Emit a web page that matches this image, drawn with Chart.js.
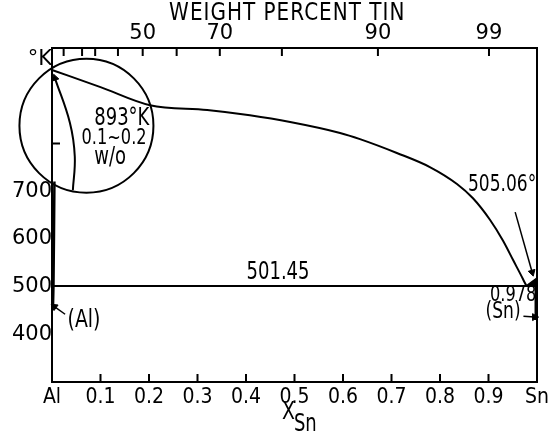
<!DOCTYPE html>
<html lang="en">
<head>
  <meta charset="UTF-8" />
  <title>Al-Sn phase diagram</title>
  <script src="https://cdn.jsdelivr.net/npm/chart.js"></script>
  <style>
    * { margin: 0; padding: 0; box-sizing: border-box; }
    body { background: #fff; width: 559px; height: 438px; overflow: hidden; }
    canvas { display: block; }
  </style>
</head>
<body>
  <canvas id="chart" width="559" height="438"></canvas>

  <script>
    // liquidus (x = mole fraction Sn, T in K)
    const liqX = [0, 0.1, 0.202, 0.32, 0.408, 0.491, 0.594, 0.635, 0.711, 0.78, 0.835, 0.868, 0.903, 0.930, 0.951, 0.971, 0.978];
    const liqT = [954, 918, 880, 870, 859, 845, 822, 809, 780, 750, 715, 685, 640, 596, 555, 516, 501.45];

    // eutectic horizontal
    const eutX = [0, 1];
    const eutT = [501.45, 501.45];

    // (Al) solvus hugging the left axis
    const alX = [0.005, 0.004, 0.003, 0.002];
    const alT = [720, 600, 501.45, 455];

    // magnified solidus drawn inside the circle
    const insetX = [0.006, 0.037, 0.047, 0.043];
    const insetT = [937, 843, 772, 702];
    const circleX = [0.071];
    const circleT = [837];

    // Sn side
    const snWedgeX = [0.978, 1, 1, 0.978];
    const snWedgeT = [501.45, 518, 501.45, 501.45];
    const snSolX = [0.998, 0.998];
    const snSolT = [515, 430];

    // arrows
    const arr505X = [0.955, 0.99];
    const arr505T = [656, 530];
    const arrAlX = [0.027, 0.005];
    const arrAlT = [442, 458];
    const arrSnX = [0.972, 0.995];
    const arrSnT = [438, 436];

    // ticks
    const xTicks = [0, 0.1, 0.2, 0.3, 0.4, 0.5, 0.6, 0.7, 0.8, 0.9, 1];
    const xTickLabels = ['Al', '0.1', '0.2', '0.3', '0.4', '0.5', '0.6', '0.7', '0.8', '0.9', 'Sn'];
    const topTicks = [0.024, 0.062, 0.089, 0.136, 0.187, 0.257, 0.346, 0.474, 0.672, 0.901];
    const topTickLabels = ['', '', '', '', '50', '', '70', '', '90', '99'];
    const yTicks = [400, 500, 600, 700, 975];
    const yTickLabels = ['400', '500', '600', '700', '°K'];
    const yInwardTicks = [800];

    const FONT = '"DejaVu Sans Condensed", "DejaVu Sans", sans-serif';
    const WIDE = '"DejaVu Sans", sans-serif';

    const notes = [
      { text: '501.45', x: 0.466, T: 529, size: 20 },
      { text: '505.06°', x: 0.928, T: 713, size: 19 },
      { text: '0.978', x: 0.951, T: 481, size: 18 },
      { text: '(Sn)', x: 0.930, T: 446, size: 19 },
      { text: '(Al)', x: 0.066, T: 430, size: 21 },
      { text: '893°K', x: 0.144, T: 851, size: 20 },
      { text: '0.1~0.2', x: 0.128, T: 810, size: 18 },
      { text: 'w/o', x: 0.120, T: 769, size: 20 }
    ];

    const pts = (xs, ys) => xs.map((x, i) => ({ x, y: ys[i] }));
    const line = (xs, ys, w, extra) => Object.assign({
      data: pts(xs, ys), showLine: true, borderColor: '#000', borderWidth: w,
      pointRadius: 0, fill: false, clip: false
    }, extra || {});
    const head = (x, y, rot) => ({
      data: [{ x, y }], pointStyle: 'triangle', pointRadius: 4, pointRotation: rot,
      backgroundColor: '#000', borderColor: '#000', borderWidth: 1, clip: false
    });

    // the lettering in the original is taller than it is wide
    function tallText(ctx, text, x, y) {
      ctx.save();
      ctx.translate(x, y);
      ctx.scale(1, 1.2);
      ctx.fillText(text, 0, 0);
      ctx.restore();
    }

    const decor = {
      id: 'decor',
      afterDatasetsDraw(chart) {
        const { ctx, chartArea: a, scales } = chart;
        const xs = scales.x, ys = scales.y;
        ctx.save();
        ctx.strokeStyle = '#000';
        ctx.lineWidth = 2;
        ctx.beginPath();
        xTicks.slice(1, -1).forEach(v => {
          const px = xs.getPixelForValue(v);
          ctx.moveTo(px, a.bottom); ctx.lineTo(px, a.bottom - 8);
        });
        topTicks.forEach(v => {
          const px = xs.getPixelForValue(v);
          ctx.moveTo(px, a.top); ctx.lineTo(px, a.top + 8);
        });
        yInwardTicks.forEach(v => {
          const py = ys.getPixelForValue(v);
          ctx.moveTo(a.left, py); ctx.lineTo(a.left + 8, py);
        });
        ctx.stroke();

        ctx.fillStyle = '#000';
        ctx.textAlign = 'center';
        ctx.textBaseline = 'middle';
        notes.forEach(n => {
          ctx.font = n.size + 'px ' + FONT;
          tallText(ctx, n.text, xs.getPixelForValue(n.x), ys.getPixelForValue(n.T));
        });

        // axis titles
        ctx.font = '20px ' + WIDE;
        ctx.letterSpacing = '1px';
        tallText(ctx, 'WEIGHT PERCENT TIN', xs.getPixelForValue(0.485), 14);
        ctx.letterSpacing = '0px';
        ctx.textAlign = 'left';
        ctx.font = '21px ' + FONT;
        const tx = xs.getPixelForValue(0.474);
        tallText(ctx, 'X', tx, a.bottom + 30);
        ctx.font = '20px ' + FONT;
        tallText(ctx, 'Sn', tx + 12, a.bottom + 43);
        ctx.restore();
      }
    };

    new Chart(document.getElementById('chart'), {
      type: 'scatter',
      data: {
        datasets: [
          line(liqX, liqT, 2, { cubicInterpolationMode: 'monotone' }),
          line(eutX, eutT, 2),
          line(alX, alT, 2.5),
          line(insetX, insetT, 2, { tension: 0.4 }),
          {
            data: pts(circleX, circleT), pointRadius: 67, pointStyle: 'circle',
            backgroundColor: 'rgba(0,0,0,0)', borderColor: '#000', borderWidth: 2, clip: false
          },
          line(snWedgeX, snWedgeT, 1.5, { fill: 'shape', backgroundColor: '#000' }),
          line(snSolX, snSolT, 3),
          line(arr505X, arr505T, 1.5),
          head(arr505X[1], arr505T[1], 164),
          line(arrAlX, arrAlT, 1.5),
          head(arrAlX[1], arrAlT[1], 306),
          line(arrSnX, arrSnT, 1.5),
          head(arrSnX[1], arrSnT[1], 90),
          head(insetX[0], insetT[0], -18)
        ]
      },
      options: {
        responsive: false,
        animation: false,
        events: [],
        layout: { padding: 0, autoPadding: false },
        plugins: { legend: { display: false }, tooltip: { enabled: false } },
        scales: {
          x: {
            type: 'linear', position: 'bottom', min: 0, max: 1,
            afterFit: s => { s.height = 56; },
            afterBuildTicks: s => { s.ticks = xTicks.map(v => ({ value: v })); },
            ticks: {
              autoSkip: false, maxRotation: 0, padding: 3, color: '#000',
              font: { family: FONT, size: 21 },
              callback: (v, i) => xTickLabels[i]
            },
            grid: { drawOnChartArea: false, drawTicks: false },
            border: { color: '#000', width: 2 }
          },
          x2: {
            type: 'linear', position: 'top', min: 0, max: 1,
            afterFit: s => { s.height = 48; },
            afterBuildTicks: s => { s.ticks = topTicks.map(v => ({ value: v })); },
            ticks: {
              autoSkip: false, maxRotation: 0, padding: 2, color: '#000',
              font: { family: WIDE, size: 21 },
              callback: (v, i) => topTickLabels[i]
            },
            grid: { drawOnChartArea: false, drawTicks: false },
            border: { color: '#000', width: 2 }
          },
          y: {
            type: 'linear', position: 'left', min: 300, max: 1000,
            afterFit: s => { s.width = 52; },
            afterBuildTicks: s => { s.ticks = yTicks.map(v => ({ value: v })); },
            ticks: {
              autoSkip: false, padding: 0, color: '#000', font: { family: WIDE, size: 21 },
              callback: (v, i) => yTickLabels[i]
            },
            grid: { drawOnChartArea: false, drawTicks: false },
            border: { color: '#000', width: 2 }
          },
          yR: {
            type: 'linear', position: 'right', min: 300, max: 1000,
            afterFit: s => { s.width = 22; },
            ticks: { display: false },
            grid: { drawOnChartArea: false, drawTicks: false },
            border: { color: '#000', width: 2 }
          }
        }
      },
      plugins: [decor]
    });
  </script>
</body>
</html>
